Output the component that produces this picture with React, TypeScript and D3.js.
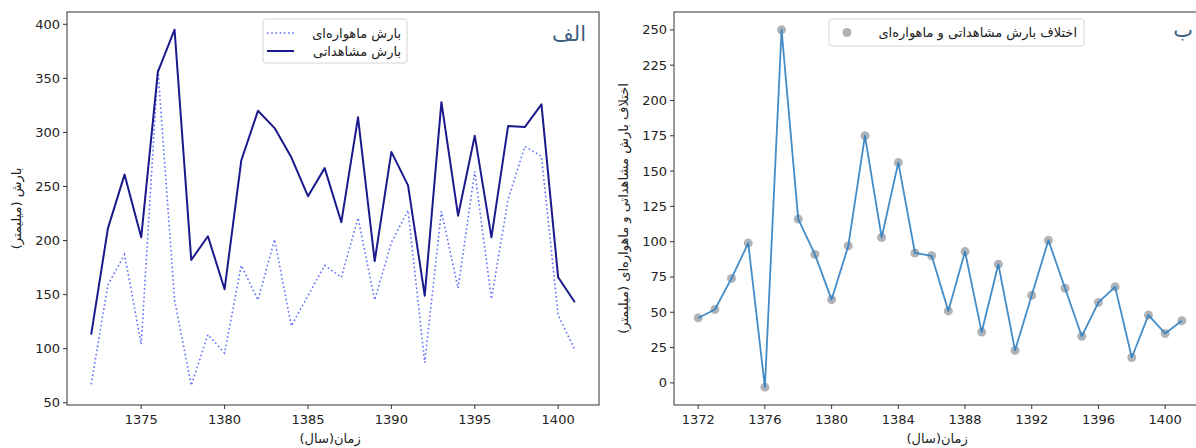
import React from "react";
import * as d3 from "d3";

const years = [1372,1373,1374,1375,1376,1377,1378,1379,1380,1381,1382,1383,1384,1385,1386,1387,1388,1389,1390,1391,1392,1393,1394,1395,1396,1397,1398,1399,1400,1401];
const observed = [113,211,261,203,356,395,182,204,155,274,320,304,277,241,267,217,314,181,282,251,149,328,223,297,203,306,305,326,166,143];
const satellite = [67,159,187,104,359,145,66,113,96,177,145,201,121,149,177,166,221,145,198,228,87,227,156,264,146,238,287,278,131,99];
const difference = [46,52,74,99,-3,250,116,91,59,97,175,103,156,92,90,51,93,36,84,23,62,101,67,33,57,68,18,48,35,44];

const leftXTicks = [1375,1380,1385,1390,1395,1400];
const leftYTicks = [50,100,150,200,250,300,350,400];
const rightXTicks = [1372,1376,1380,1384,1388,1392,1396,1400];
const rightYTicks = [0,25,50,75,100,125,150,175,200,225,250];

const labelSat = "بارش ماهواره‌ای";
const labelObs = "بارش مشاهداتی";
const labelDiff = "اختلاف بارش مشاهداتی و ماهواره‌ای";
const yLabelLeft = "بارش (میلیمتر)";
const yLabelRight = "اختلاف بارش مشاهداتی و ماهواره‌ای (میلیمتر)";
const xLabelWord = "زمان";
const xLabelParen = "(سال)";
const titleLeft = "الف";
const titleRight = "ب";

const FONT = "'DejaVu Sans', sans-serif";
const AX = "#333";
const TXT = "#222";

export default function App() {
  const W = 1196, H = 448;
  const L = { x0: 67, x1: 599, y0: 12, y1: 405 };
  const R = { x0: 674, x1: 1206, y0: 12, y1: 405 };

  const lx = d3.scaleLinear().domain([1370.55, 1402.45]).range([L.x0, L.x1]);
  const ly = d3.scaleLinear().domain([47.9, 411.4]).range([L.y1, L.y0]);
  const rx = d3.scaleLinear().domain([1370.55, 1402.45]).range([R.x0, R.x1]);
  const ry = d3.scaleLinear().domain([-15.65, 262.65]).range([R.y1, R.y0]);

  const lineObs = d3.line<number>().x((_, i) => lx(years[i])).y((d) => ly(d));
  const lineDiff = d3.line<number>().x((_, i) => rx(years[i])).y((d) => ry(d));

  const tickLen = 4;

  const axes = (P: typeof L, xs: any, ys: any, xt: number[], yt: number[]) => (
    <g>
      <rect x={P.x0} y={P.y0} width={P.x1 - P.x0} height={P.y1 - P.y0} fill="none" stroke={AX} strokeWidth={1} />
      {xt.map((t) => (
        <g key={"x" + t}>
          <line x1={xs(t)} x2={xs(t)} y1={P.y1} y2={P.y1 + tickLen} stroke={AX} />
          <text x={xs(t)} y={P.y1 + 19} textAnchor="middle" fontSize={13} fill={TXT} fontFamily={FONT}>{t}</text>
        </g>
      ))}
      {yt.map((t) => (
        <g key={"y" + t}>
          <line x1={P.x0 - tickLen} x2={P.x0} y1={ys(t)} y2={ys(t)} stroke={AX} />
          <text x={P.x0 - 7} y={ys(t) + 4.5} textAnchor="end" fontSize={13} fill={TXT} fontFamily={FONT}>{t}</text>
        </g>
      ))}
    </g>
  );

  // visual order: "(سال)" on the left, "زمان" on the right (right-to-left reading)
  const xLabelAt = (cx: number) => (
    <g>
      <text x={cx + 1} y={443} textAnchor="end" fontSize={13} fill={TXT} fontFamily={FONT}>{xLabelParen}</text>
      <text x={cx + 1} y={443} textAnchor="start" fontSize={13} fill={TXT} fontFamily={FONT}>{xLabelWord}</text>
    </g>
  );

  const lcx = (L.x0 + L.x1) / 2;
  const rcx = (R.x0 + R.x1) / 2;
  const lcy = (L.y0 + L.y1) / 2;

  return (
    <svg width={W} height={H} style={{ position: "absolute", left: 0, top: 0, background: "#fff" }}>
      <rect width={W} height={H} fill="#fff" />
      {/* Left panel */}
      <path d={lineObs(satellite) || ""} fill="none" stroke="#4455ff" strokeOpacity={0.85} strokeWidth={1.6} strokeDasharray="1.6 2.6" />
      <path d={lineObs(observed) || ""} fill="none" stroke="#1a1a8c" strokeWidth={2} strokeLinejoin="round" />
      {axes(L, lx, ly, leftXTicks, leftYTicks)}
      <text x={L.x1 - 13} y={41} textAnchor="end" fontSize={21} fill="#3f5f82" fontFamily={FONT}>{titleLeft}</text>
      <g>
        <rect x={263} y={19} width={144} height={44} rx={3} fill="#fff" fillOpacity={0.8} stroke="#d4d4d4" />
        <line x1={267} x2={294} y1={33} y2={33} stroke="#4455ff" strokeOpacity={0.85} strokeWidth={1.6} strokeDasharray="1.6 2.6" />
        <text x={401} y={37.5} textAnchor="end" fontSize={13} fill={TXT} fontFamily={FONT}>{labelSat}</text>
        <line x1={267} x2={294} y1={51} y2={51} stroke="#1a1a8c" strokeWidth={2} />
        <text x={401} y={55.5} textAnchor="end" fontSize={13} fill={TXT} fontFamily={FONT}>{labelObs}</text>
      </g>
      <text transform={`translate(21,${lcy}) rotate(-90)`} textAnchor="middle" direction="rtl" fontSize={13} fill={TXT} fontFamily={FONT}>{yLabelLeft}</text>
      {xLabelAt(lcx)}

      {/* Right panel */}
      {difference.map((d, i) => (
        <circle key={i} cx={rx(years[i])} cy={ry(d)} r={4.5} fill="#8f949b" fillOpacity={0.7} />
      ))}
      <path d={lineDiff(difference) || ""} fill="none" stroke="#2f7fc1" strokeOpacity={0.9} strokeWidth={1.8} strokeLinejoin="round" />
      {axes(R, rx, ry, rightXTicks, rightYTicks)}
      <text x={R.x1 - 13} y={37} textAnchor="end" fontSize={21} fill="#3f5f82" fontFamily={FONT}>{titleRight}</text>
      <g>
        <rect x={829} y={19} width={255} height={27} rx={3} fill="#fff" fillOpacity={0.8} stroke="#d4d4d4" />
        <circle cx={847} cy={32.5} r={4.5} fill="#8f949b" fillOpacity={0.7} />
        <text x={1077} y={37} textAnchor="end" fontSize={13} fill={TXT} fontFamily={FONT}>{labelDiff}</text>
      </g>
      <text transform={`translate(628,${lcy}) rotate(-90)`} textAnchor="middle" direction="rtl" fontSize={13} fill={TXT} fontFamily={FONT}>{yLabelRight}</text>
      {xLabelAt(rcx)}
    </svg>
  );
}
